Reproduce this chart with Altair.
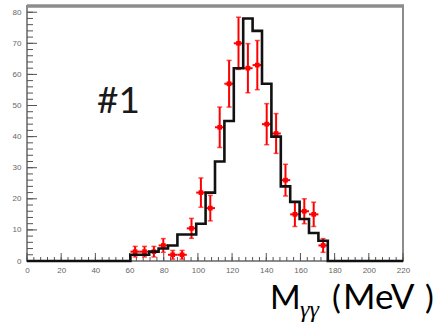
import altair as alt
import pandas as pd

# ---------------- data ----------------
BIN_WIDTH = 5.5          # MeV
N_BINS = 40              # 0 .. 220 MeV
FIRST_BIN = 11           # first non-empty bin index

mc_counts = [2, 2, 3, 4, 5, 8.5, 8.5, 12, 22, 32, 45, 62, 78, 74, 57, 40, 24, 19, 13.5, 9, 6.5]
data_counts = [3, 3, 3, 5, 2, 2, 10.5, 22, 17, 43, 57, 70, 62, 63, 44, 41, 26, 15, 16, 15, 5]
data_errors = [1.7, 1.7, 1.7, 2.2, 1.4, 1.4, 3.2, 4.7, 4.1, 6.5, 7.5, 8.4, 7.9, 7.9, 6.6, 6.4, 5.1, 3.9, 4.0, 3.9, 2.2]

x_major_ticks = [0, 20, 40, 60, 80, 100, 120, 140, 160, 180, 200, 220]
x_minor_ticks = [v for v in range(0, 221, 4)]
y_major_ticks = [0, 10, 20, 30, 40, 50, 60, 70, 80]
y_minor_ticks = [v for v in range(0, 82, 2)]

X_MAX = 220
Y_MAX = 82

# ---------------- tables ----------------
mc_full = [0.0] * N_BINS
for i, v in enumerate(mc_counts):
    mc_full[FIRST_BIN + i] = v
mc_df = pd.DataFrame({
    "x": [k * BIN_WIDTH for k in range(N_BINS + 1)],
    "y": mc_full + [0.0],
})

centers = [(FIRST_BIN + i + 0.5) * BIN_WIDTH for i in range(len(data_counts))]
dat_df = pd.DataFrame({
    "x": centers,
    "y": data_counts,
    "lo": [c - e for c, e in zip(data_counts, data_errors)],
    "hi": [c + e for c, e in zip(data_counts, data_errors)],
    "xlo": [c - BIN_WIDTH / 2 for c in centers],
    "xhi": [c + BIN_WIDTH / 2 for c in centers],
})

W, H = 376, 255

xs = alt.Scale(domain=[0, X_MAX], nice=False, zero=False)
ys = alt.Scale(domain=[0, Y_MAX], nice=False)

RED = "#ff0000"

# axes (labels only; ticks are drawn inside the frame below)
x_axis = alt.Axis(values=x_major_ticks, ticks=False, domain=False, grid=False, title=None,
                  labelFont="Liberation Sans", labelFontSize=8, labelColor="#666666",
                  labelPadding=5, labelFlush=False, labelOverlap=False, format="d")
y_axis = alt.Axis(values=y_major_ticks, ticks=False, domain=False, grid=False, title=None,
                  labelFont="Liberation Sans", labelFontSize=8, labelColor="#666666",
                  labelPadding=6, labelOverlap=False, format="d")


def X(f):
    return alt.X(f, scale=xs, axis=x_axis)


def Y(f):
    return alt.Y(f, scale=ys, axis=y_axis)


# inner tick marks
ymaj = alt.Chart(pd.DataFrame({"v": y_major_ticks})).mark_rule(color="#555555", strokeWidth=1).encode(
    y=Y("v:Q"), x=alt.value(0), x2=alt.value(10))
ymin = alt.Chart(pd.DataFrame({"v": y_minor_ticks})).mark_rule(color="#555555", strokeWidth=1).encode(
    y=Y("v:Q"), x=alt.value(0), x2=alt.value(6))
xmaj = alt.Chart(pd.DataFrame({"v": x_major_ticks})).mark_rule(color="#555555", strokeWidth=1).encode(
    x=X("v:Q"), y=alt.value(H), y2=alt.value(H - 8))
xmin = alt.Chart(pd.DataFrame({"v": x_minor_ticks})).mark_rule(color="#555555", strokeWidth=1).encode(
    x=X("v:Q"), y=alt.value(H), y2=alt.value(H - 4))

# data points with errors
vbar = alt.Chart(dat_df).mark_rule(color=RED, strokeWidth=2).encode(
    x=X("x:Q"), y=Y("lo:Q"), y2="hi:Q")
hbar = alt.Chart(dat_df).mark_rule(color=RED, strokeWidth=2).encode(
    x=X("xlo:Q"), x2="xhi:Q", y=Y("y:Q"))
cap_lo = alt.Chart(dat_df).mark_tick(color=RED, orient="horizontal", size=5, thickness=1.5).encode(
    x=X("x:Q"), y=Y("lo:Q"))
cap_hi = alt.Chart(dat_df).mark_tick(color=RED, orient="horizontal", size=5, thickness=1.5).encode(
    x=X("x:Q"), y=Y("hi:Q"))
pts = alt.Chart(dat_df).mark_square(color=RED, size=22, opacity=1).encode(
    x=X("x:Q"), y=Y("y:Q"))

# MC histogram
hist = alt.Chart(mc_df).mark_line(color="#111111", strokeWidth=2.6, interpolate="step-after").encode(
    x=X("x:Q"), y=Y("y:Q"))

# top frame edge (thicker in the reference)
top_edge = alt.Chart(pd.DataFrame({"v": [Y_MAX]})).mark_rule(color="#8c8c8c", strokeWidth=3.5).encode(
    y=Y("v:Q"), x=alt.value(0), x2=alt.value(W + 1))

# annotations
label1 = alt.Chart(pd.DataFrame({"t": ["#1"]})).mark_text(
    font="Lato", fontSize=37, color="#1a1a1a", align="left", baseline="alphabetic").encode(
    text="t:N", x=alt.value(70), y=alt.value(107))
m_txt = alt.Chart(pd.DataFrame({"t": ["M"]})).mark_text(
    font="Lato", fontSize=33, color="#000000", align="left", baseline="alphabetic").encode(
    text="t:N", x=alt.value(243), y=alt.value(302.5))
gg_txt = alt.Chart(pd.DataFrame({"t": ["γγ"]})).mark_text(
    font="Liberation Serif", fontStyle="italic", fontSize=24, color="#000000",
    align="left", baseline="alphabetic").encode(
    text="t:N", x=alt.value(273), y=alt.value(311))
lp_txt = alt.Chart(pd.DataFrame({"t": ["("]})).mark_text(
    font="Lato", fontSize=33, color="#000000", align="left", baseline="alphabetic").encode(
    text="t:N", x=alt.value(305), y=alt.value(302.5))
mev_txt = alt.Chart(pd.DataFrame({"t": ["MeV"]})).mark_text(
    font="Lato", fontSize=35, color="#000000", align="left", baseline="alphabetic").encode(
    text="t:N", x=alt.value(316), y=alt.value(302.5))
rp_txt = alt.Chart(pd.DataFrame({"t": [")"]})).mark_text(
    font="Lato", fontSize=33, color="#000000", align="left", baseline="alphabetic").encode(
    text="t:N", x=alt.value(398), y=alt.value(302.5))

chart = alt.layer(
    ymin, ymaj, xmin, xmaj,
    vbar, hbar, cap_lo, cap_hi, pts, hist, top_edge,
    label1, m_txt, gg_txt, lp_txt, mev_txt, rp_txt,
).properties(
    width=W, height=H,
    autosize=alt.AutoSizeParams(type="none"),
    padding={"left": 27, "top": 6, "right": 41, "bottom": 64},
    background="white",
).configure_view(stroke="#8c8c8c", strokeWidth=2)

chart.save("out.html", embed_options={"renderer": "svg", "actions": False})
